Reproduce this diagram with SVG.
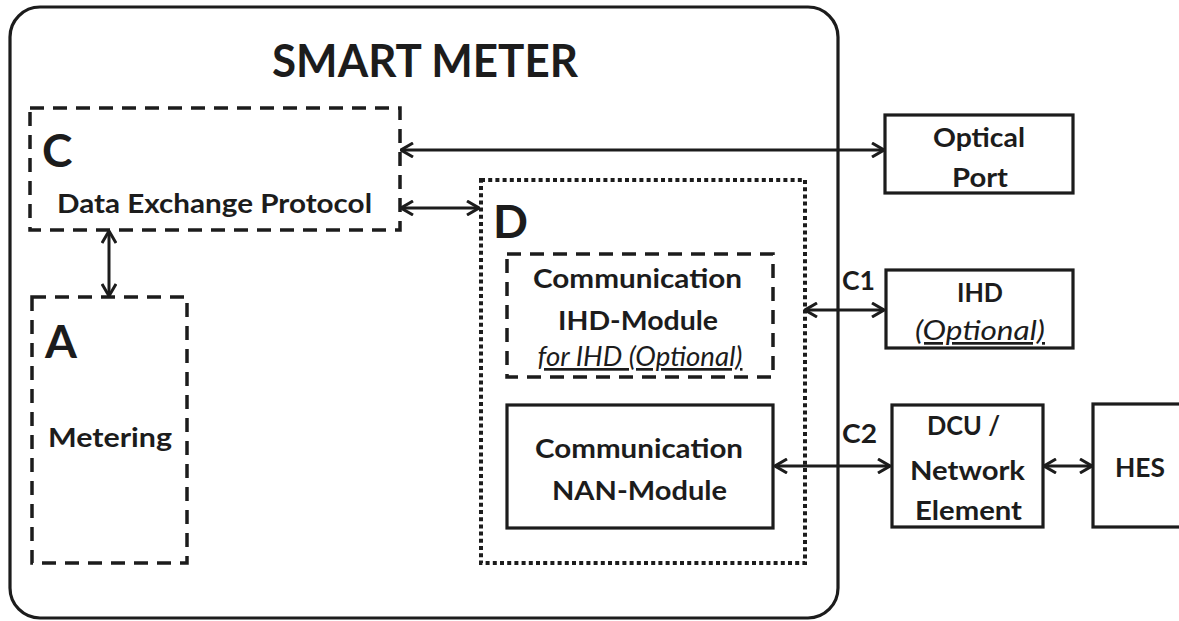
<svg xmlns="http://www.w3.org/2000/svg" width="1179" height="621" viewBox="0 0 1179 621">
<defs>
<style>
.t{font-family:Lato,"Open Sans","Liberation Sans",sans-serif;font-weight:bold;fill:#1c1c1c;text-anchor:middle}
.b{font-size:27px}
.big{font-size:46px;text-anchor:start}
.i{font-style:italic;font-weight:normal;text-decoration:underline}
.solid{fill:#fff;stroke:#1c1c1c;stroke-width:3.2}
.dash{fill:none;stroke:#1c1c1c;stroke-width:3.5;stroke-dasharray:14 9}
.dot{fill:none;stroke:#1c1c1c;stroke-width:4;stroke-dasharray:4 3.2}
.con{fill:none;stroke:#1c1c1c;stroke-width:3;marker-start:url(#ah);marker-end:url(#ah)}
</style>
<marker id="ah" viewBox="0 0 14 16" refX="13" refY="8" markerWidth="14" markerHeight="16" markerUnits="userSpaceOnUse" orient="auto-start-reverse">
<path d="M1,1 L13,8 L1,15" fill="none" stroke="#1c1c1c" stroke-width="3"/>
</marker>
</defs>
<rect width="1179" height="621" fill="#fff"/>

<g id="smart-meter">
<rect x="10" y="7" width="828" height="611" rx="30" ry="30" fill="none" stroke="#1c1c1c" stroke-width="3.2"/>
<text class="t" x="425" y="77" font-size="46" textLength="306" lengthAdjust="spacingAndGlyphs">SMART METER</text>
</g>

<g id="C">
<rect class="dash" x="30" y="108" width="370" height="122"/>
<text class="t big" x="42" y="167">C</text>
<text class="t b" x="214.5" y="213" textLength="315" lengthAdjust="spacingAndGlyphs">Data Exchange Protocol</text>
</g>

<g id="A">
<rect class="dash" x="32" y="297" width="155" height="266"/>
<text class="t big" x="45" y="358">A</text>
<text class="t b" x="110" y="447" textLength="124" lengthAdjust="spacingAndGlyphs">Metering</text>
</g>

<g id="D">
<rect class="dot" x="481" y="180" width="324" height="383"/>
<text class="t big" x="493" y="238">D</text>
</g>

<g id="ihd-module">
<rect class="dash" x="507" y="254" width="266" height="123"/>
<text class="t b" x="637.5" y="288" textLength="209" lengthAdjust="spacingAndGlyphs">Communication</text>
<text class="t b" x="638" y="330" textLength="160" lengthAdjust="spacingAndGlyphs">IHD-Module</text>
<text class="t b i" x="640" y="366" textLength="205" lengthAdjust="spacingAndGlyphs">for IHD (Optional)</text>
</g>

<g id="nan-module">
<rect class="solid" x="507" y="405" width="266" height="123"/>
<text class="t b" x="639" y="458" textLength="208" lengthAdjust="spacingAndGlyphs">Communication</text>
<text class="t b" x="639.5" y="500" textLength="175" lengthAdjust="spacingAndGlyphs">NAN-Module</text>
</g>

<g id="optical-port">
<rect class="solid" x="885" y="115" width="188" height="78"/>
<text class="t b" x="979" y="147" textLength="92" lengthAdjust="spacingAndGlyphs">Optical</text>
<text class="t b" x="980" y="187" textLength="56" lengthAdjust="spacingAndGlyphs">Port</text>
</g>

<g id="ihd">
<rect class="solid" x="886" y="270" width="187" height="78"/>
<text class="t b" x="980" y="302" textLength="46" lengthAdjust="spacingAndGlyphs">IHD</text>
<text class="t b i" x="980" y="340" textLength="130" lengthAdjust="spacingAndGlyphs">(Optional)</text>
</g>

<g id="dcu">
<rect class="solid" x="892" y="405" width="151" height="122"/>
<text class="t b" x="963.5" y="435" textLength="73" lengthAdjust="spacingAndGlyphs">DCU /</text>
<text class="t b" x="967.5" y="480" textLength="115" lengthAdjust="spacingAndGlyphs">Network</text>
<text class="t b" x="968.5" y="520" textLength="107" lengthAdjust="spacingAndGlyphs">Element</text>
</g>

<g id="hes">
<rect class="solid" x="1093" y="404" width="100" height="123"/>
<text class="t b" x="1140" y="477" textLength="50" lengthAdjust="spacingAndGlyphs">HES</text>
</g>

<g id="connectors">
<line class="con" x1="401" y1="150" x2="884" y2="150"/>
<line class="con" x1="401" y1="208" x2="479" y2="208"/>
<line class="con" x1="109" y1="231" x2="109" y2="296"/>
<line class="con" x1="805" y1="310" x2="884" y2="310"/>
<line class="con" x1="775" y1="466" x2="890" y2="466"/>
<line class="con" x1="1044" y1="466" x2="1092" y2="466"/>
<text class="t b" x="858.5" y="290" textLength="33" lengthAdjust="spacingAndGlyphs">C1</text>
<text class="t b" x="859.5" y="443" textLength="35" lengthAdjust="spacingAndGlyphs">C2</text>
</g>
</svg>
